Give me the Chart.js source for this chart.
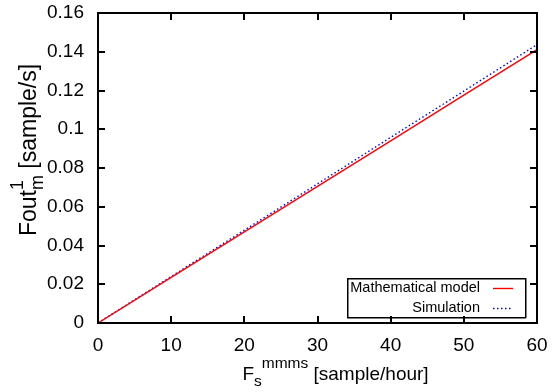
<!DOCTYPE html>
<html>
<head>
<meta charset="utf-8">
<script src="https://cdn.jsdelivr.net/npm/chart.js@4.4.1/dist/chart.umd.min.js"></script>
<style>
html, body { margin: 0; padding: 0; background: #fff; }
#wrap { width: 552px; height: 392px; }
</style>
</head>
<body>
<div id="wrap"><canvas id="fsChart" width="552" height="392"></canvas></div>
<script>
// sample rate in [sample/hour] and output rate in [sample/s]
var rates = [0, 10, 20, 30, 40, 50, 60];
var modelOut = [0, 0.0235, 0.0470, 0.0705, 0.0940, 0.1176, 0.1411];
var simOut = [0, 0.0240, 0.0479, 0.0718, 0.0958, 0.1197, 0.1437];
var seriesNames = ['Mathematical model', 'Simulation'];
var xTicks = [0, 10, 20, 30, 40, 50, 60];
var yTicks = [0, 0.02, 0.04, 0.06, 0.08, 0.1, 0.12, 0.14, 0.16];
var yTickLabels = ['0', '0.02', '0.04', '0.06', '0.08', '0.1', '0.12', '0.14', '0.16'];

var FONT = '"Liberation Sans", Arial, sans-serif';

function toPoints(xs, ys) {
    return xs.map(function (x, i) { return { x: x, y: ys[i] }; });
}

// frame, inward ticks on all sides, legend box and the axis titles (gnuplot look)
var gnuplotFrame = {
    id: 'gnuplotFrame',
    afterDraw: function (chart) {
        var ctx = chart.ctx;
        var a = chart.chartArea;
        var xs = chart.scales.x, ys = chart.scales.y;
        var L = Math.round(a.left), R = Math.round(a.right), T = Math.round(a.top), B = Math.round(a.bottom);
        ctx.save();
        ctx.fillStyle = '#000';
        // frame, 2px
        ctx.fillRect(L - 1, T - 1, R - L + 2, 2);
        ctx.fillRect(L - 1, B - 1, R - L + 2, 2);
        ctx.fillRect(L - 1, T - 1, 2, B - T + 2);
        ctx.fillRect(R - 1, T - 1, 2, B - T + 2);
        xTicks.forEach(function (v) {
            var px = Math.round(xs.getPixelForValue(v));
            ctx.fillRect(px - 1, B - 7, 2, 7);
            ctx.fillRect(px - 1, T, 2, 7);
        });
        yTicks.forEach(function (v) {
            var py = Math.round(ys.getPixelForValue(v));
            ctx.fillRect(L, py - 1, 7, 2);
            ctx.fillRect(R - 7, py - 1, 7, 2);
        });

        // legend
        var bx2 = R - 12, by2 = B - 6;
        var bx1 = bx2 - 178, by1 = by2 - 39;
        ctx.fillRect(bx1, by1, 179, 1.5);
        ctx.fillRect(bx1, by2, 179, 1.5);
        ctx.fillRect(bx1, by1, 1.5, 40);
        ctx.fillRect(bx2, by1, 1.5, 40);
        ctx.font = '14.5px ' + FONT;
        ctx.textAlign = 'right';
        ctx.textBaseline = 'middle';
        chart.data.datasets.forEach(function (ds, i) {
            var ry = by1 + 9.5 + i * 20;
            ctx.fillStyle = '#000';
            ctx.fillText(ds.label, bx2 - 45, ry);
            ctx.strokeStyle = ds.borderColor;
            ctx.lineWidth = ds.borderWidth;
            ctx.setLineDash(ds.borderDash || []);
            ctx.beginPath();
            ctx.moveTo(bx2 - 32, Math.round(ry) + 0.5);
            ctx.lineTo(bx2 - 12, Math.round(ry) + 0.5);
            ctx.stroke();
            ctx.setLineDash([]);
        });

        // x title: F_s^mmms [sample/hour]
        ctx.fillStyle = '#000';
        ctx.textAlign = 'left';
        ctx.textBaseline = 'alphabetic';
        var big = '19px ' + FONT, small = '15.5px ' + FONT;
        ctx.font = big;
        var wF = ctx.measureText('F').width, wRest = ctx.measureText(' [sample/hour]').width;
        ctx.font = small;
        var wS = ctx.measureText('s').width, wM = ctx.measureText('mmms').width;
        var total = wF + wS + wM + wRest;
        var x = (a.left + a.right) / 2 + 18 - total / 2, y = a.bottom + 57;
        ctx.font = big; ctx.fillText('F', x, y); x += wF;
        ctx.font = small; ctx.fillText('s', x, y + 6); x += wS;
        ctx.fillText('mmms', x, y - 12); x += wM;
        ctx.font = big; ctx.fillText(' [sample/hour]', x, y);

        // y title: Fout^1_m [sample/s], drawn larger like the reference
        var ybig = '23px ' + FONT, ysmall = '18px ' + FONT;
        ctx.font = ybig;
        var wFout = ctx.measureText('Fout').width, wUnit = ctx.measureText(' [sample/s]').width;
        ctx.font = ysmall;
        var w1 = ctx.measureText('1').width, wm = ctx.measureText('m').width;
        var ttot = wFout + Math.max(w1, wm) + wUnit;
        ctx.translate(36, 150);
        ctx.rotate(-Math.PI / 2);
        var tx = -ttot / 2;
        ctx.font = ybig; ctx.fillText('Fout', tx, 0); tx += wFout;
        ctx.font = ysmall;
        ctx.fillText('1', tx, -13);
        ctx.fillText('m', tx, 7);
        tx += Math.max(w1, wm);
        ctx.font = ybig; ctx.fillText(' [sample/s]', tx, 0);
        ctx.restore();
    }
};

new Chart(document.getElementById('fsChart').getContext('2d'), {
    type: 'line',
    data: {
        datasets: [{
            label: seriesNames[0],
            data: toPoints(rates, modelOut),
            borderColor: 'rgb(255, 0, 0)',
            borderWidth: 1.4,
            pointRadius: 0,
            tension: 0
        }, {
            label: seriesNames[1],
            data: toPoints(rates, simOut),
            borderColor: 'rgb(0, 0, 255)',
            borderWidth: 1.4,
            borderDash: [1.5, 2.5],
            pointRadius: 0,
            tension: 0
        }]
    },
    options: {
        responsive: false,
        animation: false,
        devicePixelRatio: 1,
        layout: { padding: { left: 0, top: 13, right: 15, bottom: 0 } },
        plugins: { legend: { display: false }, tooltip: { enabled: false } },
        scales: {
            x: {
                type: 'linear',
                min: 0, max: 60,
                afterBuildTicks: function (s) { s.ticks = xTicks.map(function (v) { return { value: v }; }); },
                afterFit: function (s) { s.height = 69; s.paddingLeft = 0; s.paddingRight = 0; },
                grid: { display: false, drawTicks: false },
                border: { display: false },
                ticks: { color: '#000', padding: 11, maxRotation: 0, font: { family: FONT, size: 19 } }
            },
            y: {
                type: 'linear',
                min: 0, max: 0.16,
                afterBuildTicks: function (s) { s.ticks = yTicks.map(function (v) { return { value: v }; }); },
                afterFit: function (s) { s.width = 98; s.paddingTop = 0; s.paddingBottom = 0; },
                grid: { display: false, drawTicks: false },
                border: { display: false },
                ticks: {
                    color: '#000', padding: 14, font: { family: FONT, size: 19 },
                    callback: function (v, i) { return yTickLabels[i]; }
                }
            }
        }
    },
    plugins: [gnuplotFrame]
});
</script>
</body>
</html>
